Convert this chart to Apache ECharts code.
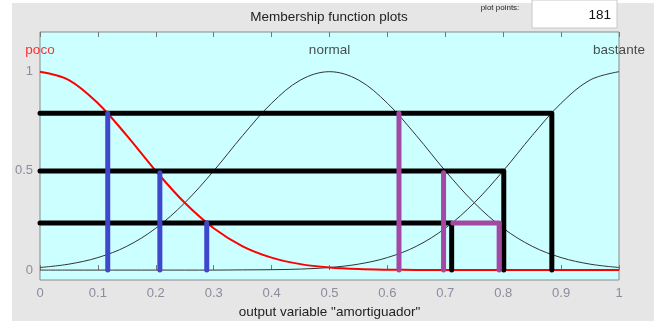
<!DOCTYPE html>
<html>
<head>
<meta charset="utf-8">
<script src="https://cdn.jsdelivr.net/npm/echarts@6/dist/echarts.min.js"></script>
<style>
html,body{margin:0;padding:0;background:#fff;}
#chart{width:654px;height:323px;}
</style>
</head>
<body>
<div id="chart"></div>
<script>
// ---- data ----
const xSamples = [0,0.05,0.1,0.15,0.2,0.25,0.3,0.35,0.4,0.45,0.5,0.55,0.6,0.65,0.7,0.75,0.8,0.85,0.9,0.95,1];
const pocoValues = [1,0.958,0.841,0.678,0.5,0.339,0.211,0.12,0.063,0.03,0.013,0.005,0.002,0.001,0,0,0,0,0,0,0];
const normalValues = [0.013,0.03,0.063,0.12,0.211,0.339,0.5,0.678,0.841,0.958,1,0.958,0.841,0.678,0.5,0.339,0.211,0.12,0.063,0.03,0.013];
const bastanteValues = [0,0,0,0,0,0,0,0.001,0.002,0.005,0.013,0.03,0.063,0.12,0.211,0.339,0.5,0.678,0.841,0.958,1];
const mfNames = ["poco","normal","bastante"];
const mfCenters = [0,0.5,1];
const xTickLabels = ["0","0.1","0.2","0.3","0.4","0.5","0.6","0.7","0.8","0.9","1"];
const yTickValues = [0,0.5,1];
// activation levels and corresponding x positions
const levels = [0.79,0.5,0.237];
const blackRightX = [0.884,0.801,0.711];
const blueX = [0.117,0.207,0.288];
const blueTop = [0.79,0.49,0.237];
const purpleX = [0.62,0.697];
const purpleTop = [0.79,0.49];
const purpleBoxX = [0.713,0.793];
const purpleBoxLevel = 0.237;
const plotPoints = "181";

const pair = (xs, ys) => xs.map((x,i)=>[x,ys[i]]);
const FONT = 'Liberation Sans, Arial, sans-serif';

const series = [];
const thinCurve = (name, vals, color, w) => ({
  type:'line', name, data:pair(xSamples, vals), smooth:0.35, showSymbol:false,
  lineStyle:{color, width:w}, z:2, silent:true
});
series.push(thinCurve('normal', normalValues, '#333333', 1));
series.push(thinCurve('bastante', bastanteValues, '#333333', 1));
series.push(thinCurve('poco', pocoValues, '#ff0000', 2));

// black activation paths
levels.forEach((lv,i)=>{
  series.push({type:'line', data:[[0,lv],[blackRightX[i],lv],[blackRightX[i],0]], showSymbol:false,
    lineStyle:{color:'#000', width:5, cap:'round', join:'round'}, z:3, silent:true});
});
// blue bars
blueX.forEach((x,i)=>{
  series.push({type:'line', data:[[x,0],[x,blueTop[i]]], showSymbol:false,
    lineStyle:{color:'#3f48cc', width:5, cap:'round'}, z:4, silent:true});
});
// purple bars
purpleX.forEach((x,i)=>{
  series.push({type:'line', data:[[x,0],[x,purpleTop[i]]], showSymbol:false,
    lineStyle:{color:'#a349a4', width:5, cap:'round'}, z:4, silent:true});
});
series.push({type:'line', data:[[purpleBoxX[0],purpleBoxLevel],[purpleBoxX[1],purpleBoxLevel],[purpleBoxX[1],0]], showSymbol:false,
  lineStyle:{color:'#a349a4', width:5, cap:'round', join:'round'}, z:4, silent:true});

// MF name labels
series.push({type:'scatter', symbolSize:0, silent:true, z:6,
  data: mfNames.map((n,i)=>({value:[mfCenters[i],1.106], name:n,
    label:{show:true, formatter:n, position:'inside', color: i===0?'#ff0000':'#222',
      fontSize:13.5, fontFamily:FONT}}))
});

const chart = echarts.init(document.getElementById('chart'), null, {renderer:'canvas'});
chart.setOption({
  animation:false,
  backgroundColor:'#fff',
  textStyle:{fontFamily:FONT},
  graphic:[
    {type:'rect', z:-10, shape:{x:12,y:3,width:642,height:318}, style:{fill:'#e6e6e6'}},
    {type:'rect', z:-5, shape:{x:532,y:0,width:85,height:28}, style:{fill:'#fff', stroke:'#c8c8c8', lineWidth:1}},
    {type:'text', z:5, style:{x:611,y:15,text:plotPoints,align:'right',verticalAlign:'middle',font:'13.5px Liberation Sans, Arial',fill:'#111'}},
    {type:'text', z:5, style:{x:500,y:8,text:'plot points:',align:'center',verticalAlign:'middle',font:'8px Liberation Sans, Arial',fill:'#222'}},
    {type:'text', z:5, style:{x:329,y:17,text:'Membership function plots',align:'center',verticalAlign:'middle',font:'13.5px Liberation Sans, Arial',fill:'#222'}}
  ],
  grid:{left:40, top:32, width:579, height:248, show:true, backgroundColor:'#ccffff', borderColor:'#8a8a8a', borderWidth:1,
    containLabel:false, outerBoundsMode:'none'},
  xAxis:[{
    type:'value', min:0, max:1, interval:0.1,
    axisLine:{show:false},
    axisTick:{show:true, inside:true, length:5, lineStyle:{color:'#777'}},
    axisLabel:{color:'#8c8c9c', fontSize:13, margin:7, formatter:(v)=>xTickLabels[Math.round(v*10)]},
    splitLine:{show:false},
    name:'output variable "amortiguador"', nameLocation:'middle', nameGap:24,
    nameTextStyle:{color:'#222', fontSize:13.5}
  },{
    type:'value', min:0, max:1, interval:0.1, position:'top',
    axisLine:{show:false},
    axisTick:{show:true, inside:true, length:5, lineStyle:{color:'#777'}},
    axisLabel:{show:false}, splitLine:{show:false}
  }],
  yAxis:{
    type:'value', min:-0.05, max:1.2,
    axisLine:{show:false},
    axisTick:{show:false},
    axisLabel:{color:'#8c8c9c', fontSize:13, margin:7, customValues:yTickValues,
      formatter:(v)=>String(Math.round(v*10)/10)},
    splitLine:{show:false}
  },
  series
});
</script>
</body>
</html>
